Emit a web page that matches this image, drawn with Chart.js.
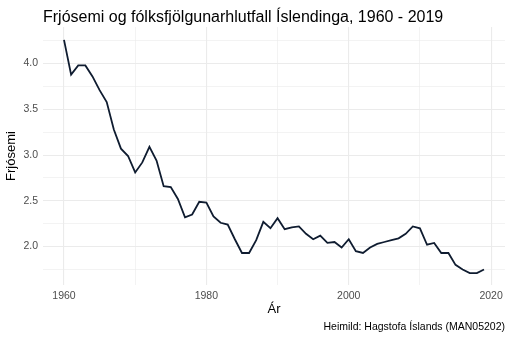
<!DOCTYPE html>
<html>
<head>
<meta charset="utf-8">
<script src="https://cdn.jsdelivr.net/npm/chart.js@4"></script>
<style>
  html, body { margin: 0; padding: 0; background: #fff; }
  #wrap { width: 512px; height: 341px; }
</style>
</head>
<body>
<div id="wrap"><canvas id="line-chart" width="512" height="341"></canvas></div>
<script>
const years = [];
for (let y = 1960; y <= 2019; y++) years.push(y);

const fertility = [
  4.26, 3.88, 3.98, 3.98, 3.86, 3.71, 3.58, 3.28, 3.07, 2.99,
  2.81, 2.92, 3.09, 2.94, 2.66, 2.65, 2.52, 2.32, 2.35, 2.49,
  2.48, 2.33, 2.26, 2.24, 2.08, 1.93, 1.93, 2.07, 2.27, 2.20,
  2.31, 2.19, 2.21, 2.22, 2.14, 2.08, 2.12, 2.04, 2.05, 1.99,
  2.08, 1.95, 1.93, 1.99, 2.03, 2.05, 2.07, 2.09, 2.14, 2.22,
  2.20, 2.02, 2.04, 1.93, 1.93, 1.80, 1.75, 1.71, 1.71, 1.75
];

const xMajor = [1960, 1980, 2000, 2020];
const xGrid = [1960, 1970, 1980, 1990, 2000, 2010, 2020];
const yMajor = [2.0, 2.5, 3.0, 3.5, 4.0];
const yGrid = [1.75, 2.0, 2.25, 2.5, 2.75, 3.0, 3.25, 3.5, 3.75, 4.0, 4.25];

const titleText = "Frjósemi og fólksfjölgunarhlutfall Íslendinga, 1960 - 2019";
const captionText = "Heimild: Hagstofa Íslands (MAN05202)";
const font = "Liberation Sans, Arial, sans-serif";

const textPlugin = {
  id: "texts",
  afterDraw(c) {
    const ctx = c.ctx;
    ctx.save();
    ctx.fillStyle = "#000";
    ctx.font = "16px " + font;
    ctx.textBaseline = "alphabetic";
    ctx.textAlign = "left";
    ctx.fillText(titleText, c.chartArea.left, 21.5);
    ctx.font = "10.5px " + font;
    ctx.textBaseline = "middle";
    ctx.textAlign = "right";
    ctx.fillText(captionText, 505, 327);
    ctx.restore();
  }
};

const chart = new Chart(document.getElementById("line-chart"), {
  type: "line",
  data: {
    datasets: [{
      data: years.map((y, i) => ({ x: y, y: fertility[i] })),
      borderColor: "#0f1c30",
      borderWidth: 1.8,
      pointRadius: 0,
      tension: 0,
      fill: false
    }]
  },
  options: {
    responsive: false,
    animation: false,
    layout: { padding: { top: 27, right: 7, bottom: 22, left: 0 } },
    plugins: {
      legend: { display: false },
      title: { display: false },
      tooltip: { enabled: false }
    },
    scales: {
      x: {
        type: "linear",
        min: 1957.05,
        max: 2021.95,
        afterBuildTicks: s => { s.ticks = xGrid.map(v => ({ value: v })); },
        afterFit: s => { s.height = 34; },
        border: { display: false },
        grid: {
          drawTicks: false,
          color: "#ebebeb",
          lineWidth: ctx => xMajor.includes(ctx.tick && ctx.tick.value) ? 1.1 : 0.6
        },
        ticks: {
          autoSkip: false,
          maxRotation: 0,
          padding: 5,
          color: "#4d4d4d",
          font: { family: font, size: 10.5 },
          callback: v => xMajor.includes(v) ? String(v) : ""
        },
        title: {
          display: true,
          text: "Ár",
          color: "#000",
          font: { family: font, size: 13 },
          padding: { top: 0, bottom: 2 }
        }
      },
      y: {
        min: 1.58,
        max: 4.40,
        afterBuildTicks: s => { s.ticks = yGrid.map(v => ({ value: v })); },
        afterFit: s => { s.width = 43; },
        border: { display: false },
        grid: {
          drawTicks: false,
          color: "#ebebeb",
          lineWidth: ctx => yMajor.includes(ctx.tick && ctx.tick.value) ? 1.1 : 0.6
        },
        ticks: {
          autoSkip: false,
          padding: 5,
          color: "#4d4d4d",
          font: { family: font, size: 10.5 },
          callback: v => yMajor.includes(v) ? v.toFixed(1) : ""
        },
        title: {
          display: true,
          text: "Frjósemi",
          color: "#000",
          font: { family: font, size: 13 },
          padding: { top: 4, bottom: 0 }
        }
      }
    }
  },
  plugins: [textPlugin]
});
</script>
</body>
</html>
